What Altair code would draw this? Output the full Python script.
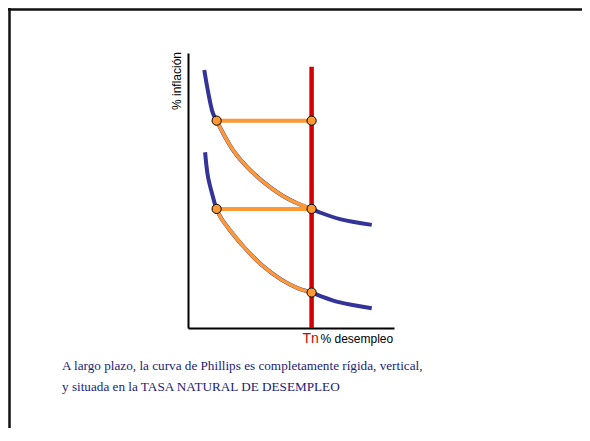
import altair as alt
import pandas as pd

# Data, units: x = % desempleo, y = % inflación (arbitrary 0-10 scale)
x_upper = [0.79, 0.99, 1.21, 1.39, 1.62, 1.96, 2.27, 2.77, 3.58, 4.55, 5.35, 6.0, 6.41, 7.38, 8.92]
y_upper = [9.38, 8.53, 7.81, 7.54, 7.20, 6.74, 6.38, 5.93, 5.36, 4.83, 4.52, 4.33, 4.20, 3.96, 3.75]
x_lower = [0.83, 0.97, 1.21, 1.39, 1.62, 1.96, 2.77, 3.58, 4.55, 5.35, 6.0, 6.41, 7.38, 8.92]
y_lower = [6.39, 5.50, 4.77, 4.33, 3.98, 3.63, 2.90, 2.29, 1.75, 1.44, 1.29, 1.17, 0.93, 0.72]

tn = 6.0
tn_top = 9.5
x_left = 1.39
level_high = 7.54
level_mid = 4.33
level_low = 1.29

pt_x = [x_left, tn, x_left, tn, tn]
pt_y = [level_high, level_high, level_mid, level_mid, level_low]

caption1 = "A largo plazo, la curva de Phillips es completamente rígida, vertical,"
caption2 = "y situada en la TASA NATURAL DE DESEMPLEO"

BLUE = "#333399"
ORANGE = "#ff9933"
RED = "#d40000"
NAVY = "#1c1c78"

curves = pd.DataFrame(
    [{"curva": "alta", "x": x, "y": y, "i": i} for i, (x, y) in enumerate(zip(x_upper, y_upper))]
    + [{"curva": "baja", "x": x, "y": y, "i": i} for i, (x, y) in enumerate(zip(x_lower, y_lower))]
)
orange_curves = curves[(curves.x >= x_left) & (curves.x <= tn)]
horiz = pd.DataFrame({"x": [x_left, x_left], "x2": [tn, tn], "y": [level_high, level_mid]})
red = pd.DataFrame({"x": [tn], "y": [0.0], "y2": [tn_top]})
pts = pd.DataFrame({"x": pt_x, "y": pt_y})

xs = alt.Scale(domain=[0, 10], nice=False, zero=False)
ys = alt.Scale(domain=[0, 10], nice=False, zero=False)
ax = alt.Axis(labels=False, ticks=False, grid=False, title=None,
              domainColor="black", domainWidth=2)

blue = alt.Chart(curves).mark_line(color=BLUE, strokeWidth=4, interpolate="catmull-rom").encode(
    x=alt.X("x:Q", scale=xs, axis=ax),
    y=alt.Y("y:Q", scale=ys, axis=ax),
    detail="curva:N", order="i:Q")

orange = alt.Chart(orange_curves).mark_line(color=ORANGE, strokeWidth=3.5, interpolate="catmull-rom").encode(
    x=alt.X("x:Q", scale=xs), y=alt.Y("y:Q", scale=ys), detail="curva:N", order="i:Q")

hlines = alt.Chart(horiz).mark_rule(color=ORANGE, strokeWidth=4).encode(
    x=alt.X("x:Q", scale=xs), x2="x2:Q", y=alt.Y("y:Q", scale=ys))

redline = alt.Chart(red).mark_rule(color=RED, strokeWidth=4.5).encode(
    x=alt.X("x:Q", scale=xs), y=alt.Y("y:Q", scale=ys), y2="y2:Q")

points = alt.Chart(pts).mark_point(filled=True, fill=ORANGE, stroke="black", strokeWidth=1,
                                   size=85, opacity=1, shape="circle").encode(
    x=alt.X("x:Q", scale=xs), y=alt.Y("y:Q", scale=ys))

def label(text, x, y, **kw):
    return alt.Chart(pd.DataFrame({"t": [text]})).mark_text(**kw).encode(
        text="t:N", x=alt.value(x), y=alt.value(y))

ylab = label("% inflación", -11, 28, angle=270, align="center", baseline="middle",
             font="Liberation Sans", fontSize=12, color="black")
tnlab = label("Tn", 114.5, 289.5, align="left", baseline="alphabetic",
              font="Liberation Sans", fontSize=14, color=RED)
xlab = label("% desempleo", 132.5, 289.5, align="left", baseline="alphabetic",
             font="Liberation Sans", fontSize=12, color="black")
cap1 = label(caption1, -126, 316.5, align="left", baseline="alphabetic",
             font="Liberation Serif", fontSize=13.2, color=NAVY)
cap2 = label(caption2, -126, 337.5, align="left", baseline="alphabetic",
             font="Liberation Serif", fontSize=13.2, color=NAVY)

frame_top = alt.Chart(pd.DataFrame({"a": [0]})).mark_rule(color="#111111", strokeWidth=2.5).encode(
    x=alt.value(-180), x2=alt.value(394), y=alt.value(-43.5))
frame_left = alt.Chart(pd.DataFrame({"a": [0]})).mark_rule(color="#111111", strokeWidth=2.5).encode(
    x=alt.value(-178.5), y=alt.value(-45), y2=alt.value(375))

chart = alt.layer(
    frame_top, frame_left, blue, orange, hlines, redline, points,
    ylab, tnlab, xlab, cap1, cap2
).properties(
    width=206, height=275,
    background="white",
    autosize=alt.AutoSizeParams(type="none"),
    padding={"left": 180, "top": 45, "right": 188, "bottom": 100},
).configure_view(stroke=None)

chart.save("out.html", embed_options={"renderer": "svg", "actions": False})
